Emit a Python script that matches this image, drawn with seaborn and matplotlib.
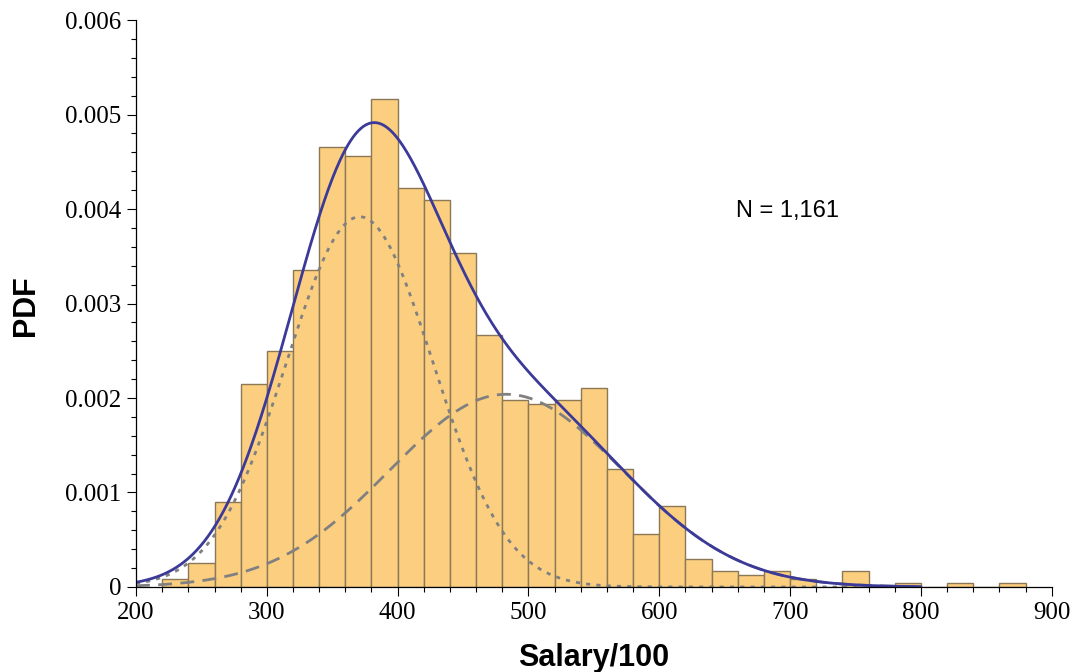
import numpy as np
import pandas as pd
import seaborn as sns
import matplotlib
matplotlib.use("Agg")
import matplotlib.pyplot as plt
from matplotlib.ticker import MultipleLocator, FixedLocator, FixedFormatter

# Salary histogram: counts per 20-unit bin (Salary/100), N = 1,161
bin_edges = list(range(220, 880, 20))
bin_counts = [2, 6, 21, 50, 58, 78, 108, 106, 120, 98, 95, 82, 62, 46, 45, 46,
              49, 29, 13, 20, 7, 4, 3, 4, 2, 0, 4, 0, 1, 0, 1, 0, 1]

# Two-component normal mixture fitted to the salaries
comp_weights = [0.55, 0.455]
comp_means = [371.0, 483.0]
comp_sds = [56.0, 89.0]

x_ticks = [200, 300, 400, 500, 600, 700, 800, 900]
y_ticks = [0, 0.001, 0.002, 0.003, 0.004, 0.005, 0.006]
y_tick_labels = ["0", "0.001", "0.002", "0.003", "0.004", "0.005", "0.006"]
n_label = "N = 1,161"

sns.set_theme(style="ticks")
plt.rcParams["font.family"] = ["Liberation Serif", "DejaVu Serif"]
plt.rcParams["text.color"] = "black"
plt.rcParams["axes.labelcolor"] = "black"
plt.rcParams["xtick.color"] = "black"
plt.rcParams["ytick.color"] = "black"

fig = plt.figure(figsize=(10.71, 6.72), dpi=100)
ax = fig.add_axes([0.127, 0.1265, 0.855, 0.8437])

centers = [e + 10 for e in bin_edges]
hist_df = pd.DataFrame({"salary": centers, "count": bin_counts})
sns.histplot(data=hist_df, x="salary", weights="count",
             bins=bin_edges + [bin_edges[-1] + 20], stat="density",
             color="#FCCF80", edgecolor="#8A7856", linewidth=1.0, alpha=1.0, ax=ax)

grid = np.linspace(200, 800, 601)


def normal_pdf(x, w, m, s):
    return w * np.exp(-0.5 * ((x - m) / s) ** 2) / (s * np.sqrt(2 * np.pi))


comp1 = normal_pdf(grid, comp_weights[0], comp_means[0], comp_sds[0])
comp2 = normal_pdf(grid, comp_weights[1], comp_means[1], comp_sds[1])
total = comp1 + comp2

sns.lineplot(x=grid, y=comp2, ax=ax, color="#808080", linewidth=2.0,
             linestyle=(0, (5, 3)))
sns.lineplot(x=grid, y=comp1, ax=ax, color="#808080", linewidth=2.0,
             linestyle=(0, (1.5, 2.2)))
sns.lineplot(x=grid, y=total, ax=ax, color="#3B3A98", linewidth=2.0)

ax.set_xlim(200, 900)
ax.set_ylim(0, 0.006)
ax.xaxis.set_major_locator(FixedLocator(x_ticks))
ax.xaxis.set_minor_locator(MultipleLocator(20))
ax.yaxis.set_major_locator(FixedLocator(y_ticks))
ax.yaxis.set_major_formatter(FixedFormatter(y_tick_labels))
ax.yaxis.set_minor_locator(MultipleLocator(0.0002))

ax.tick_params(axis="both", which="major", direction="out", length=6.5,
               width=0.8, color="black", labelcolor="black", labelsize=18, pad=4)
ax.tick_params(axis="both", which="minor", direction="out", length=3.8,
               width=0.8, color="black")

for side in ["top", "right"]:
    ax.spines[side].set_visible(False)
for side in ["left", "bottom"]:
    ax.spines[side].set_color("black")
    ax.spines[side].set_linewidth(0.9)

label_font = dict(family=["Liberation Sans", "DejaVu Sans"], fontweight="bold",
                  fontsize=22, color="black")
ax.set_xlabel("Salary/100", **label_font)
ax.set_ylabel("PDF", **label_font)
ax.xaxis.set_label_coords(0.5, -0.098)
ax.xaxis.label.set_va("top")
ax.yaxis.set_label_coords(-0.12, 0.497)
ax.yaxis.label.set_va("center")
ax.yaxis.label.set_ha("center")

ax.text(659, 0.00398, n_label, fontsize=17, family=["Liberation Sans", "DejaVu Sans"],
        ha="left", va="center", color="black")

fig.savefig("out.png", dpi=100)
